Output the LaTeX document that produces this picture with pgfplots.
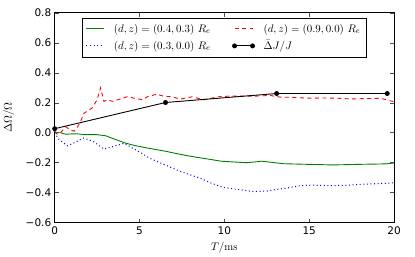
\documentclass[border=0pt]{standalone}
\usepackage{fontspec}
\usepackage{pgfplots}
\pgfplotsset{compat=1.18}
\newfontfamily\dejavu{DejaVu Sans}
\definecolor{mgreen}{rgb}{0,0.5,0}
\begin{document}
\begin{tikzpicture}
\begin{axis}[
  at={(0pt,0pt)}, anchor=south west,
  scale only axis, width=340pt, height=210pt,
  xmin=0, xmax=20, ymin=-0.6, ymax=0.8,
  xtick={0,5,10,15,20},
  xticklabels={0,5,10,15,20},
  ytick={-0.6,-0.4,-0.2,0,0.2,0.4,0.6,0.8},
  yticklabels={−0.6,−0.4,−0.2,0.0,0.2,0.4,0.6,0.8},
  tick label style={font=\dejavu\fontsize{10.5}{12}\selectfont},
  xticklabel style={yshift=-1pt},
  yticklabel style={xshift=0pt},
  major tick length=4pt,
  tick style={black!70, line width=0.6pt},
  axis line style={black, line width=1pt},
  xlabel={$T/\mathrm{ms}$},
  ylabel={$\Delta\Omega/\Omega$},
  xlabel style={at={(rel axis cs:0.5,0)}, anchor=center, yshift=-25pt},
  ylabel style={at={(rel axis cs:0,0.5)}, anchor=center, yshift=46pt},
  label style={font=\fontsize{11}{13}\selectfont},
  legend columns=2,
  legend cell align=left,
  legend style={at={(rel axis cs:0.079,0.978)}, anchor=north west,
    draw=black, line width=0.8pt, font=\fontsize{11}{13}\selectfont,
    nodes={inner sep=2pt},
    /tikz/every odd column/.append style={column sep=7pt},
    /tikz/every even column/.append style={column sep=20pt},
    inner xsep=4pt, inner ysep=4pt, row sep=3pt},
  legend image code/.code={\draw[#1, mark repeat=1, mark phase=1] plot coordinates {(0pt,0pt) (18pt,0pt)};},
]
\addplot[mgreen, line width=0.9pt] coordinates {
(0,0)(0.35,0)(0.65,-0.01)(0.94,-0.008)(1.3,-0.007)(1.7,-0.012)(2.5,-0.013)(3.0,-0.02)(3.7,-0.05)(4.2,-0.07)(4.7,-0.085)(5.6,-0.105)(6.6,-0.125)(7.0,-0.135)(7.8,-0.153)(8.6,-0.168)(9.0,-0.175)(9.8,-0.19)(10.5,-0.195)(11.3,-0.2)(11.8,-0.195)(12.2,-0.19)(13.5,-0.207)(14.9,-0.211)(16.4,-0.215)(18,-0.211)(19.5,-0.208)(20,-0.202)};
\addlegendentry{$(d,z)=(0.4,0.3)\ R_e$}
\addplot[red, line width=0.9pt, dash pattern=on 4pt off 3.5pt] coordinates {
(0,0.01)(0.15,-0.01)(0.35,0.0)(0.65,0.04)(0.9,0.02)(1.14,0.01)(1.3,0.03)(1.53,0.075)(1.72,0.13)(2.0,0.15)(2.2,0.165)(2.5,0.22)(2.7,0.3)(2.9,0.21)(3.1,0.22)(3.4,0.21)(3.7,0.22)(4.0,0.23)(4.3,0.242)(4.7,0.23)(5.2,0.22)(5.45,0.24)(6.0,0.257)(6.4,0.245)(6.9,0.24)(7.4,0.225)(8.1,0.24)(8.8,0.22)(9.6,0.24)(10.35,0.245)(11.1,0.245)(11.9,0.245)(12.7,0.249)(13.3,0.238)(14.1,0.236)(14.9,0.231)(15.8,0.232)(16.6,0.231)(17.4,0.226)(18.3,0.228)(19.2,0.23)(19.9,0.21)(20,0.21)};
\addlegendentry{$(d,z)=(0.9,0.0)\ R_e$}
\addplot[blue, line width=1pt, dash pattern=on 1pt off 2.6pt] coordinates {
(0,0)(0.25,-0.045)(0.75,-0.087)(1.1,-0.07)(1.7,-0.035)(2.3,-0.06)(2.9,-0.109)(3.5,-0.09)(4.1,-0.07)(4.7,-0.11)(5.1,-0.135)(5.6,-0.17)(6.2,-0.2)(7.4,-0.258)(8.6,-0.305)(9.2,-0.335)(9.9,-0.365)(10.9,-0.38)(11.7,-0.393)(12.5,-0.39)(13.0,-0.38)(13.7,-0.369)(14.5,-0.353)(15.2,-0.35)(16.2,-0.353)(17,-0.352)(18,-0.345)(19,-0.34)(20,-0.335)};
\addlegendentry{$(d,z)=(0.3,0.0)\ R_e$}
\addplot[black, line width=0.9pt, mark=*, mark size=2pt] coordinates {
(0,0.027)(6.53,0.202)(13.08,0.262)(19.6,0.262)};
\addlegendentry{$\bar{\Delta}J/J$}
\end{axis}
\path (-54pt,-34pt) rectangle (361pt,223pt);
\end{tikzpicture}
\end{document}
